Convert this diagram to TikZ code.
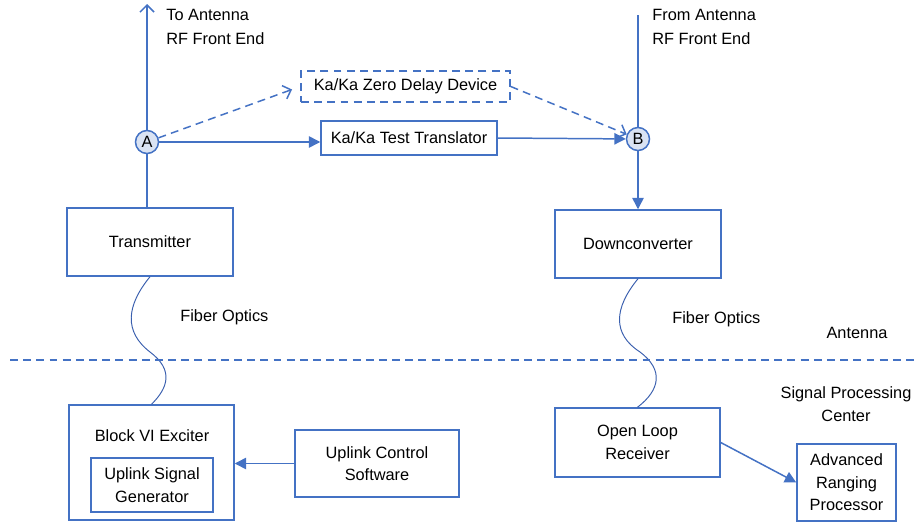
\documentclass[tikz,border=0pt]{standalone}
\usepackage{fontspec}
\setmainfont{Liberation Sans}
\usetikzlibrary{arrows.meta}
\definecolor{lineblue}{HTML}{4472C4}
\definecolor{fiberblue}{HTML}{3A5FAE}
\definecolor{nodefill}{HTML}{DAE3F3}
\def\lblfont{\fontsize{9.3}{12.8}\selectfont}
\tikzset{
  blk/.style={draw=lineblue, line width=0.85pt, align=center, font=\lblfont, inner sep=0pt},
  tap/.style={circle, draw=lineblue, fill=nodefill, line width=0.85pt, minimum size=0.46cm, inner sep=0pt, font=\lblfont},
  txt/.style={align=left, font=\fontsize{9.3}{13.7}\selectfont, inner sep=0pt},
  wire/.style={draw=lineblue, line width=0.85pt},
  fwd/.style={wire, -{Triangle[length=6.5pt,width=6.5pt]}},
  opn/.style={wire, -{Straight Barb[length=4pt,width=8pt]}},
  dsh/.style={dash pattern=on 4.5pt off 3pt},
  fiber/.style={draw=fiberblue, line width=0.55pt}
}

\begin{document}
\begin{tikzpicture}[x=0.02cm, y=-0.02cm]
				\useasboundingbox (0,0) rectangle (916,524);
				
				\node[tap] (A) at (147,142) {A};
				\node[tap] (B) at (638,139) {B};
				\coordinate (atop) at (147,4);
				\coordinate (btop) at (638,15);
				
				\node[blk, dsh, minimum width=4.18cm, minimum height=0.62cm] (zdd) at (405.5,86.5) {Ka/Ka Zero Delay Device};
				\node[blk, minimum width=3.52cm, minimum height=0.68cm] (tt) at (409,138) {Ka/Ka Test Translator};
				
				\node[blk, minimum width=3.32cm, minimum height=1.36cm] (tx) at (150,242) {Transmitter};
				\node[blk, minimum width=3.32cm, minimum height=1.36cm] (dc) at (638,244) {Downconverter};
				
				\node[blk, minimum width=3.30cm, minimum height=2.30cm] (exc) at (151.5,462.5) {};
				\node[txt, font=\lblfont] (exctxt) at (152,436) {Block VI Exciter};
				\node[blk, minimum width=2.44cm, minimum height=1.08cm] (usg) at (152,485) {Uplink Signal\\Generator};
				\node[blk, minimum width=3.28cm, minimum height=1.34cm] (ucs) at (377,463.5) {Uplink Control\\Software};
				\node[blk, minimum width=3.30cm, minimum height=1.38cm] (olr) at (637.5,442.5) {Open Loop\\Receiver};
				\node[blk, minimum width=1.98cm, minimum height=1.54cm] (arp) at (846.5,482.5) {Advanced\\Ranging\\Processor};
				
				\node[txt, anchor=west] (totxt) at (166,27) {To Antenna\\RF Front End};
				\node[txt, anchor=west] (fromtxt) at (652,27) {From Antenna\\RF Front End};
				\node[txt, anchor=west] (fib1) at (180,317) {Fiber Optics};
				\node[txt, anchor=west] (fib2) at (672,319) {Fiber Optics};
				\node[txt] (anttxt) at (857,333) {Antenna};
				\node[txt, align=center, font=\lblfont] (spctxt) at (846,404) {Signal Processing\\Center};
				
				\draw[opn] (A) -- (atop);
				\draw[wire] (A) -- (A |- tx.north);
				\draw[wire] (btop) -- (B);
				\draw[fwd] (B) -- (B |- dc.north);
				
				\draw[fwd] (A) -- (A -| tt.west);
				\draw[fwd] (tt.east) -- (B);
				\draw[opn, dsh, shorten >=5pt] (A) -- (zdd.west);
				\draw[opn, dsh] (zdd.east) -- (B);
				
				\draw[fiber] (tx.south) .. controls (126,306) and (124,332) .. (150,352) .. controls (174,370) and (168,388) .. (exc.north);
				\draw[fiber] (dc.south) .. controls (614,308) and (612,334) .. (640,352) .. controls (664,370) and (660,390) .. (olr.north);
				
				\draw[wire, dsh] (10,360) -- (916,360);
				
				\draw[fwd] (ucs.west) -- (ucs.west -| exc.east);
				\draw[fwd] (olr.east) -- (arp.west);
			\end{tikzpicture}
\end{document}
